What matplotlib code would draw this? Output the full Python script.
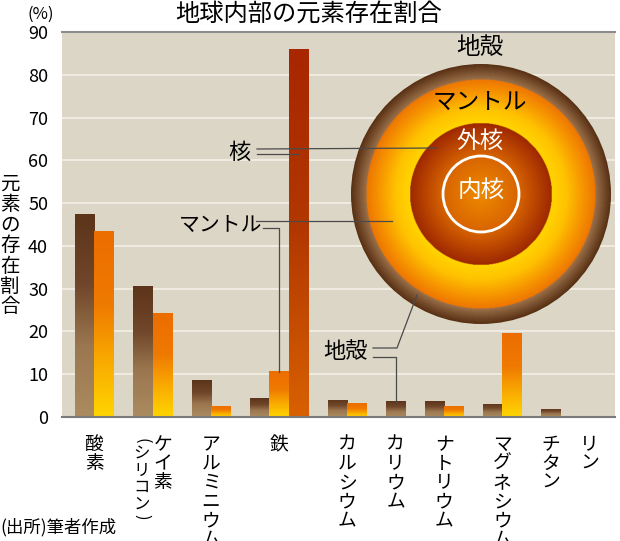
import numpy as np
import matplotlib
matplotlib.use('Agg')
import matplotlib.pyplot as plt
from matplotlib.colors import LinearSegmentedColormap
from matplotlib.patches import Circle

plt.rcParams['font.family'] = ['Noto Sans CJK JP', 'DejaVu Sans']

# data (%)
elements = ['酸素', 'ケイ素', 'アルミニウム', '鉄', 'カルシウム', 'カリウム',
            'ナトリウム', 'マグネシウム', 'チタン', 'リン']
crust = [47.4, 30.7, 8.6, 4.4, 4.0, 3.7, 3.7, 3.1, 1.9, 0.1]
mantle = [43.5, 24.2, 2.6, 10.7, 3.2, None, 2.6, 19.6, None, None]
core = [None, None, None, 86.1, None, None, None, None, None, None]
yticks = [0, 10, 20, 30, 40, 50, 60, 70, 80, 90]

# gradients (bottom -> top)
cm_crust = LinearSegmentedColormap.from_list('crust', [(0, '#ab8b5f'), (0.35, '#9b7750'), (0.65, '#70472a'), (1, '#5c341a')])
cm_mantle = LinearSegmentedColormap.from_list('mantle', [(0, '#ffd500'), (0.3, '#f9aa00'), (0.6, '#ef7a00'), (1, '#ec6d00')])
cm_core = LinearSegmentedColormap.from_list('core', [(0, '#d86000'), (0.5, '#b23800'), (1, '#a82600')])

fig = plt.figure(figsize=(6.2, 5.41), dpi=100)
ax = fig.add_axes([62/620, (541-417)/541, (615-62)/620, (417-32)/541])
ax.set_facecolor('#dcd6c6')

# lay out bar slots: one slot per layer, one empty slot between elements
slot = 0
bars = []
slots = {}
label_x = []
for i, el in enumerate(elements):
    xs = []
    for name, vals, cm in (('crust', crust, cm_crust), ('mantle', mantle, cm_mantle), ('core', core, cm_core)):
        v = vals[i]
        if v is None:
            continue
        bars.append((slot, v, cm))
        slots[(el, name)] = slot
        xs.append(slot + 0.5)
        slot += 1
    label_x.append(np.mean(xs))
    slot += 1

g = np.linspace(1, 0, 200).reshape(-1, 1)
for s, v, cm in bars:
    rect = ax.bar(s, v, width=1.0, align='edge', facecolor='none', edgecolor='none', zorder=2)[0]
    im = ax.imshow(g, cmap=cm, vmin=0, vmax=1, extent=[s, s + 1, 0, v],
                   aspect='auto', origin='upper', zorder=2, interpolation='bilinear')
    im.set_clip_path(rect)

ax.set_xlim(-0.67, 27.8)
ax.set_ylim(0, 90)
ax.set_yticks(yticks)
ax.set_xticks([])
ax.yaxis.grid(True, color='#f4f0e6', lw=1.2)
ax.set_axisbelow(True)
ax.tick_params(axis='y', length=0, pad=10, labelsize=13)
for sp in ('left', 'right'):
    ax.spines[sp].set_visible(False)
ax.spines['top'].set_color('#8c8c8c')
ax.spines['top'].set_linewidth(1.5)
ax.spines['bottom'].set_color('#7a7a7a')
ax.spines['bottom'].set_linewidth(1.5)

# overlay in pixel coordinates for the diagram and annotations
ov = fig.add_axes([0, 0, 1, 1], zorder=5)
ov.set_xlim(0, 620)
ov.set_ylim(541, 0)
ov.axis('off')
ov.patch.set_alpha(0)


def to_px(x, y):
    return ov.transData.inverted().transform(ax.transData.transform((x, y)))


# title etc.
ov.text(309, 14, '地球内部の元素存在割合', ha='center', va='center', fontsize=17.5)
ov.text(41, 14, '(%)', ha='center', va='center', fontsize=12)
for i, ch in enumerate('元素の存在割合'):
    ov.text(10, 184 + i * 20.5, ch, ha='center', va='center', fontsize=14)
ov.text(0, 527, '(出所)筆者作成', ha='left', va='center', fontsize=12.5)

# vertical x labels
pitch = 19
for el, lx in zip(elements, label_x):
    px = to_px(lx, 0)[0]
    if el == 'ケイ素':
        for i, ch in enumerate(el):
            ov.text(px + 10, 444.5 + i * pitch, ch, ha='center', va='center', fontsize=13.5)
        yy = 436
        for ch in '(シリコン)':
            if ch in '()':
                step = 10
                ov.text(px - 11, yy + step / 2, ch, ha='center', va='center',
                        fontsize=12, rotation=-90, rotation_mode='anchor')
            else:
                step = 16.5
                ov.text(px - 11, yy + step / 2, ch, ha='center', va='center', fontsize=11.8)
            yy += step
        continue
    for i, ch in enumerate(el):
        ov.text(px, 444.5 + i * pitch, ch, ha='center', va='center', fontsize=13.5)

# earth cross-section
cx, cy, R = 481, 194, 130
cm_earth = LinearSegmentedColormap.from_list('earth', [
    (0.0, '#ee8a00'), (0.29, '#d86400'), (0.546, '#9e2800'),
    (0.548, '#ffd400'), (0.66, '#ffc200'), (0.79, '#f69400'), (0.883, '#ee7600'),
    (0.886, '#9a7049'), (1.0, '#583014')])
n = 500
xx, yy2 = np.meshgrid(np.linspace(-R, R, n), np.linspace(-R, R, n))
rr = np.clip(np.hypot(xx, yy2) / R, 0, 1)
im = ov.imshow(rr, cmap=cm_earth, vmin=0, vmax=1, extent=[cx - R, cx + R, cy + R, cy - R],
               aspect='auto', interpolation='bilinear', zorder=1)
clip = Circle((cx, cy), R, transform=ov.transData, facecolor='none', edgecolor='none')
ov.add_patch(clip)
im.set_clip_path(clip)
ov.add_patch(Circle((cx, cy), 38, fill=False, ec='white', lw=2, zorder=2))
ov.set_xlim(0, 620)
ov.set_ylim(541, 0)

ov.text(480, 48, '地殻', ha='center', va='center', fontsize=17, zorder=3)
ov.text(480, 102, 'マントル', ha='center', va='center', fontsize=17, zorder=3)
ov.text(480, 141, '外核', ha='center', va='center', fontsize=17, color='white', zorder=3)
ov.text(481, 190, '内核', ha='center', va='center', fontsize=17, color='white', zorder=3)

# leader lines
lc = dict(color='#4a4a4a', lw=0.9, zorder=3)

ov.text(239, 152, '核', ha='center', va='center', fontsize=16)
ov.plot([257, 437], [149, 148], **lc)
cpx = to_px(slots[('鉄', 'core')] + 0.5, 0)[0]
ov.plot([257, cpx], [154, 154], **lc)

ov.text(221, 225, 'マントル', ha='center', va='center', fontsize=15)
ov.plot([256, 392], [220.5, 220.5], **lc)
mx, my = to_px(slots[('鉄', 'mantle')] + 0.5, mantle[3])
ov.plot([263, mx, mx], [227.5, 227.5, my + 1], **lc)

ov.text(345, 352, '地殻', ha='center', va='center', fontsize=16)
kx, ky = to_px(slots[('カリウム', 'crust')] + 0.5, crust[5])
ov.plot([373, 397, 417], [348, 348, 295], **lc)
ov.plot([373, kx, kx], [356.5, 356.5, ky + 1], **lc)

fig.savefig('out.png', dpi=100)
